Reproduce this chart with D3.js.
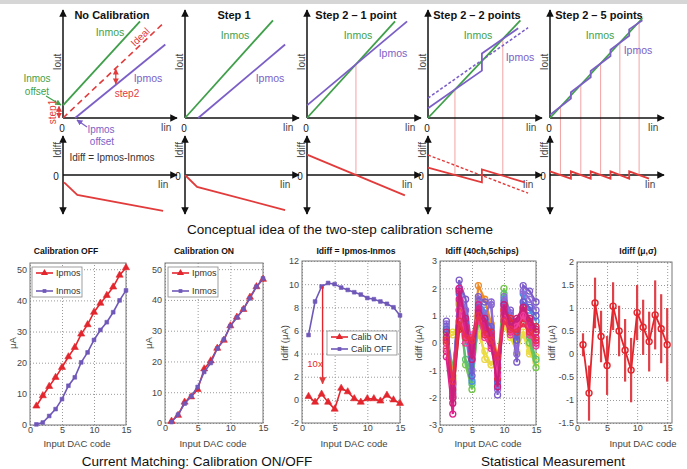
<!DOCTYPE html>
<html>
<head>
<meta charset="utf-8">
<script src="https://cdn.jsdelivr.net/npm/d3@7"></script>
<style>
body { margin: 0; background: #fff; }
text { font-family: "Liberation Sans", Arial, sans-serif; }
</style>
</head>
<body>
<script>
// ---- conceptual sketches (Iin, Iout in 0..1 units, Idiff in -1..1 units) ----
var conceptTitles = ["No Calibration", "Step 1", "Step 2 \u2013 1 point", "Step 2 \u2013 2 points", "Step 2 \u2013 5 points"];
var noCalInmos = [[0, 0.12], [0.7, 0.92]];
var noCalIdeal = [[0, 0], [0.91, 0.9]];
var noCalIpmos = [[0.11, 0], [0.93, 0.7]];
var noCalDiff  = [[0.01, -0.2], [0.13, -0.54], [0.91, -0.97]];
var step1Inmos = [[0, 0], [0.8, 0.93]];
var step1Ipmos = [[0.12, 0], [0.91, 0.7]];
var step1Diff  = [[0, 0], [0.11, -0.32], [0.91, -0.95]];
var pt1Inmos = [[0, 0], [0.8, 0.92]];
var pt1Ipmos = [[0, 0.12], [0.91, 0.92]];
var pt1Diff  = [[0, 0.55], [0.89, -0.55]];
var pt1Cal   = [0.445];
var pt2Inmos = [[0, 0], [0.84, 0.93]];
var pt2IpmosOld = [[0, 0.19], [0.91, 0.86]];
var pt2Ipmos = [[0, 0.092], [0.49, 0.451], [0.49, 0.614], [0.82, 0.855]];
var pt2DiffOld = [[0, 0.54], [0.91, -0.49]];
var pt2Diff  = [[0, 0.2], [0.49, -0.2], [0.49, 0.15], [0.88, -0.2]];
var pt2Cal   = [0.245, 0.68];
var pt5Inmos = [[0, 0], [0.84, 0.95]];
var pt5Ipmos = [[0, 0.03], [0.19, 0.185], [0.19, 0.245], [0.37, 0.388], [0.37, 0.448], [0.55, 0.59], [0.55, 0.65], [0.72, 0.784], [0.72, 0.844], [0.84, 0.93]];
var pt5Diff  = [[0, 0.1], [0.19, -0.1], [0.19, 0.1], [0.37, -0.1], [0.37, 0.1], [0.55, -0.1], [0.55, 0.1], [0.72, -0.1], [0.72, 0.1], [0.9, -0.1]];
var pt5Cal   = [0.095, 0.28, 0.46, 0.635, 0.81];

// ---- measured data ----
var dacCodes = [1, 2, 3, 4, 5, 6, 7, 8, 9, 10, 11, 12, 13, 14, 15];
var offIpmos = [6.1, 9.4, 12.4, 15.3, 18.5, 21.9, 24.9, 29.2, 32.2, 36.2, 39.1, 41.6, 44.3, 48.1, 50.5];
var offInmos = [0.2, 0.8, 2.9, 5.1, 8.3, 12.6, 15.3, 20.1, 23.3, 27.3, 30.5, 33.0, 36.2, 40.0, 43.2];
var onIpmos  = [0.6, 2.5, 6.8, 8.5, 10.9, 17.6, 20.2, 24.3, 26.9, 31.6, 34.4, 36.9, 40.9, 44.3, 46.7];
var onInmos  = [0.3, 2.7, 6.3, 8.7, 11.7, 16.6, 19.5, 24.2, 27.1, 31.5, 34.3, 37.0, 40.5, 44.3, 47.0];
var diffOn   = [0.3, -0.2, 0.5, -0.2, -0.8, 1.0, 0.7, 0.1, -0.2, 0.1, 0.1, -0.1, 0.4, 0.0, -0.3];
var diffOff  = [5.6, 8.5, 9.8, 10.1, 10.0, 9.7, 9.5, 9.3, 9.1, 8.8, 8.7, 8.5, 8.3, 8.0, 7.3];
// per-channel Idiff (subset of the 40 channels)
var chanDiff = [
  [0.4, 0.4, 0.5, 0.2, -0.5, 0.3, -0.3, -0.8, -0.6, 0.6, 0.2, -0.3, 0.4, -0.3, -0.5],
  [0.2, 0.3, 0.7, 0.3, -0.3, 0.8, -0.6, -0.8, -0.4, 0.7, 0.3, 0.0, 0.3, -0.4, -0.7],
  [0.3, -1.3, 1.5, -0.8, -1.7, 1.0, 0.6, 0.3, -0.9, 2.0, 0.9, 0.4, 1.2, 0.0, -0.9],
  [0.5, -1.0, 1.2, -0.6, -1.5, 0.9, 0.8, 0.0, -1.0, 1.8, 0.6, 0.2, 1.0, 0.2, -0.6],
  [0.6, -1.5, 1.9, 0.4, -1.4, 1.5, 1.2, 0.5, -1.5, 1.6, 1.0, 0.3, 1.8, 1.2, 0.8],
  [0.1, -1.2, 1.4, 0.6, -0.4, 2.1, 1.6, 0.7, -0.6, 1.2, 0.7, 0.5, 1.0, 0.8, 0.4],
  [0.8, -1.8, 2.3, 1.6, -0.3, 1.7, 1.5, 1.4, -1.9, 1.5, 1.2, -0.7, 2.1, 1.9, 1.5],
  [0.7, -1.6, 2.0, 1.2, -1.0, 1.6, 1.0, 1.5, -1.7, 1.7, 1.1, -0.4, 1.9, 1.6, 1.2],
  [0.5, -2.0, 1.8, 0.8, -1.2, 1.3, 0.9, 0.6, -1.4, 1.4, 0.8, 0.1, 1.5, 1.3, 1.0],
  [0.0, -2.0, 0.6, 0.3, 0.2, 1.2, 0.7, 0.4, -1.3, 1.2, 0.9, 0.6, 1.2, 0.8, 0.6],
  [-0.3, -1.7, 0.5, 0.5, 0.0, 1.0, 0.5, 0.2, -0.9, 1.0, 0.7, 0.5, 0.9, 0.7, 0.4],
  [-0.5, -2.6, 2.0, 0.3, -0.4, 1.2, 0.4, -0.1, -1.1, 1.1, 0.4, 0.8, 1.1, 0.6, 0.0],
  [0.2, -1.9, 1.6, 0.6, -0.2, 1.4, 0.6, 0.3, -0.8, 1.3, 0.5, 0.7, 1.3, 0.5, 0.2],
  [-0.2, -1.5, 1.2, 0.0, 0.3, 0.8, 0.2, -0.2, -1.2, 0.9, 0.3, 0.6, 1.0, 0.3, -0.1],
  [0.4, -2.2, 1.9, 0.9, -0.6, 1.1, 0.9, 0.0, -1.6, 1.4, 0.6, 0.9, 1.3, 0.9, 0.5],
  [0.1, -1.4, 0.8, 0.2, 0.1, 1.0, 0.3, 0.1, -0.5, 0.8, 0.5, 0.4, 0.7, 0.4, 0.1]
];
var chanColors = ["#e6e23a", "#ecd84a", "#74c84a", "#5cc070", "#4f8fe0", "#f08a24", "#7c5cc8", "#8e6ad6",
                  "#6a5ed0", "#e82a3a", "#d92440", "#e0208a", "#d8248a", "#f0409a", "#c8207a", "#e8304e"];
var muDiff    = [0.2, -0.85, 1.11, 0.38, -0.25, 1.04, 0.5, 0.08, -0.35, 0.9, 0.58, 0.27, 0.85, 0.55, 0.2];
var sigmaDiff = [0.25, 0.6, 0.55, 0.56, 0.64, 0.52, 0.55, 0.68, 0.7, 0.6, 0.6, 0.65, 0.75, 0.75, 0.8];

var codeTicks = [0, 5, 10, 15];
var uaTicks   = [0, 10, 20, 30, 40, 50];
var idiffTicks = [-2, 0, 2, 4, 6, 8, 10, 12];
var chanTicks = [-3, -2, -1, 0, 1, 2, 3];
var muTicks   = [-1.5, -1, -0.5, 0, 0.5, 1, 1.5, 2];

var green = "#3f9f4a", purple = "#7b5fc7", red = "#e23b3b", pink = "#f3a3a3";
var mRed = "#e3262e", mPurple = "#6f58b8";

var svg = d3.select("body").append("svg").attr("width", 687).attr("height", 469);
svg.append("rect").attr("width", 687).attr("height", 469).attr("fill", "#fff");
svg.append("rect").attr("width", 687).attr("height", 4).attr("fill", "#d6d6d6");

var defs = svg.append("defs");
function arrowMarker(id, color) {
  defs.append("marker").attr("id", id).attr("viewBox", "0 0 10 10")
    .attr("refX", 9).attr("refY", 5).attr("markerWidth", 5).attr("markerHeight", 5)
    .attr("orient", "auto-start-reverse")
    .append("path").attr("d", "M0,0L10,5L0,10z").attr("fill", color);
}
arrowMarker("aBlack", "#111");
arrowMarker("aRed", red);
arrowMarker("aGreen", green);
arrowMarker("aPurple", purple);

function label(g, x, y, txt, opt) {
  opt = opt || {};
  var t = g.append("text").attr("x", x).attr("y", y).text(txt)
    .attr("font-size", opt.size || 10).attr("fill", opt.color || "#333")
    .attr("text-anchor", opt.anchor || "middle").attr("dy", "0.35em");
  if (opt.bold) t.attr("font-weight", "bold");
  if (opt.rotate) t.attr("transform", "rotate(" + opt.rotate + "," + x + "," + y + ")");
  return t;
}
function lerpAt(pts, t) {
  for (var k = 1; k < pts.length; k++) {
    if (t <= pts[k][0]) {
      var a = pts[k - 1], b = pts[k];
      return a[1] + (b[1] - a[1]) * (t - a[0]) / (b[0] - a[0]);
    }
  }
  return pts[pts.length - 1][1];
}

// ================= conceptual panels =================
var conceptLeft = [63, 185, 307, 428, 550];
var conceptPanels = [
  { top: [[noCalInmos, green], [noCalIdeal, red, "6,4"], [noCalIpmos, purple]], bot: [[noCalDiff, red]], cal: [], ref: noCalInmos,
    lab: [[47, 32], [85, 78]] },
  { top: [[step1Inmos, green], [step1Ipmos, purple]], bot: [[step1Diff, red]], cal: [], ref: step1Inmos,
    lab: [[50, 35], [85, 78]] },
  { top: [[pt1Inmos, green], [pt1Ipmos, purple]], bot: [[pt1Diff, red]], cal: pt1Cal, ref: pt1Inmos,
    lab: [[51, 35], [86, 53]] },
  { top: [[pt2Inmos, green], [pt2IpmosOld, purple, "3,2"], [pt2Ipmos, purple]], bot: [[pt2DiffOld, red, "3,2"], [pt2Diff, red]], cal: pt2Cal, ref: pt2Inmos,
    lab: [[50, 35], [92, 57]] },
  { top: [[pt5Inmos, green], [pt5Ipmos, purple]], bot: [[pt5Diff, red]], cal: pt5Cal, ref: pt5Inmos,
    lab: [[50, 35], [88, 50]] }
];

conceptPanels.forEach(function (p, i) {
  var ox = conceptLeft[i];
  var g = svg.append("g");
  var x = d3.scaleLinear().domain([0, 1]).range([ox, ox + 110]);
  var yT = d3.scaleLinear().domain([0, 1]).range([118, 13]);
  var yB = d3.scaleLinear().domain([-1, 1]).range([212, 138]);

  // calibration points: vertical guides
  p.cal.forEach(function (c) {
    g.append("line").attr("x1", x(c)).attr("x2", x(c))
      .attr("y1", yT(lerpAt(p.ref, c))).attr("y2", yB(0))
      .attr("stroke", pink).attr("stroke-width", 1);
  });

  // axes
  g.append("line").attr("x1", ox).attr("y1", 118).attr("x2", ox).attr("y2", 10)
    .attr("stroke", "#111").attr("stroke-width", 1.5).attr("marker-end", "url(#aBlack)");
  g.append("line").attr("x1", ox).attr("y1", 118).attr("x2", ox + 114).attr("y2", 118)
    .attr("stroke", "#111").attr("stroke-width", 1.5).attr("marker-end", "url(#aBlack)");
  g.append("line").attr("x1", ox).attr("y1", 136).attr("x2", ox).attr("y2", 214)
    .attr("stroke", "#111").attr("stroke-width", 1.5)
    .attr("marker-start", "url(#aBlack)").attr("marker-end", "url(#aBlack)");
  g.append("line").attr("x1", ox).attr("y1", yB(0)).attr("x2", ox + 114).attr("y2", yB(0))
    .attr("stroke", "#111").attr("stroke-width", 1.5).attr("marker-end", "url(#aBlack)");

  label(g, ox - 6, 62, "Iout", { rotate: -90, size: 10, color: "#444" });
  label(g, ox - 6, 150, "Idiff", { rotate: -90, size: 10, color: "#444" });
  label(g, ox - 1, 128, "0", { size: 10, color: "#222" });
  label(g, ox - 7, yB(0) + 1, "0", { size: 10, color: "#222" });
  label(g, ox + 103, 127, "Iin", { size: 10, color: "#444" });
  label(g, ox + 100, 184, "Iin", { size: 10, color: "#444" });
  label(g, ox + 49, 15, conceptTitles[i], { size: 11, bold: true, color: "#111" });

  var lineT = d3.line().x(function (d) { return x(d[0]); }).y(function (d) { return yT(d[1]); });
  var lineB = d3.line().x(function (d) { return x(d[0]); }).y(function (d) { return yB(d[1]); });
  p.top.forEach(function (s) {
    g.append("path").attr("d", lineT(s[0])).attr("fill", "none").attr("stroke", s[1])
      .attr("stroke-width", s[2] ? 1.6 : 1.8).attr("stroke-dasharray", s[2] || null);
  });
  p.bot.forEach(function (s) {
    g.append("path").attr("d", lineB(s[0])).attr("fill", "none").attr("stroke", s[1])
      .attr("stroke-width", s[2] ? 1.4 : 1.8).attr("stroke-dasharray", s[2] || null);
  });

  label(g, ox + p.lab[0][0], p.lab[0][1], "Inmos", { color: green, size: 10.5 });
  label(g, ox + p.lab[1][0], p.lab[1][1], "Ipmos", { color: purple, size: 10.5 });

  if (i === 0) {
    label(g, 112, 157, "Idiff = Ipmos-Inmos", { size: 10 });
    label(g, 37, 78, "Inmos", { color: green, size: 10 });
    label(g, 37, 91, "offset", { color: green, size: 10 });
    g.append("line").attr("x1", 46).attr("y1", 96).attr("x2", 61).attr("y2", 105)
      .attr("stroke", green).attr("stroke-width", 1.2).attr("marker-end", "url(#aGreen)");
    label(g, 101, 129, "Ipmos", { color: purple, size: 10 });
    label(g, 102, 141, "offset", { color: purple, size: 10 });
    g.append("line").attr("x1", 87).attr("y1", 127).attr("x2", 77).attr("y2", 120)
      .attr("stroke", purple).attr("stroke-width", 1.2).attr("marker-end", "url(#aPurple)");
    label(g, 52, 112, "step1", { color: red, size: 10, rotate: -90 });
    g.append("line").attr("x1", 59).attr("y1", yT(0.11)).attr("x2", 59).attr("y2", yT(0))
      .attr("stroke", red).attr("stroke-width", 1.2)
      .attr("marker-start", "url(#aRed)").attr("marker-end", "url(#aRed)");
    var sx = 0.48;
    g.append("line").attr("x1", x(sx)).attr("y1", yT(lerpAt(noCalIdeal, sx)) + 1)
      .attr("x2", x(sx)).attr("y2", yT(lerpAt(noCalIpmos, sx)) - 1)
      .attr("stroke", red).attr("stroke-width", 1.2)
      .attr("marker-start", "url(#aRed)").attr("marker-end", "url(#aRed)");
    label(g, 127, 93, "step2", { color: red, size: 10 });
    label(g, 140, 37, "Ideal", { color: red, size: 10, rotate: -44 });
  }
});

label(svg, 340, 229, "Conceptual idea of the two-step calibration scheme", { size: 13.5, color: "#111" });

// ================= measured charts =================
function frame(cfg) {
  var g = svg.append("g");
  var x = d3.scaleLinear().domain(cfg.xd).range(cfg.xr);
  var y = d3.scaleLinear().domain(cfg.yd).range(cfg.yr);
  var w = cfg.xr[1] - cfg.xr[0], h = cfg.yr[0] - cfg.yr[1];
  var fmt = function (d) { return String(d); };
  var gx = g.append("g").attr("transform", "translate(0," + cfg.yr[0] + ")")
    .call(d3.axisBottom(x).tickValues(codeTicks).tickSize(-h).tickPadding(2).tickFormat(fmt));
  var gy = g.append("g").attr("transform", "translate(" + cfg.xr[0] + ",0)")
    .call(d3.axisLeft(y).tickValues(cfg.yt).tickSize(-w).tickPadding(3).tickFormat(fmt));
  [gx, gy].forEach(function (a) {
    a.select(".domain").remove();
    a.selectAll(".tick line").attr("stroke", "#9a9a9a").attr("stroke-dasharray", "1,2");
    a.selectAll(".tick text").attr("font-size", 9).attr("fill", "#444")
      .attr("font-family", "Liberation Sans, Arial, sans-serif");
  });
  g.append("rect").attr("x", cfg.xr[0]).attr("y", cfg.yr[1]).attr("width", w).attr("height", h)
    .attr("fill", "none").attr("stroke", "#777").attr("stroke-width", 1);
  label(g, cfg.tx, 251, cfg.title, { size: 8.6, bold: true, color: "#111" });
  label(g, cfg.lx, 444, "Input DAC code", { size: 9.5, color: "#444" });
  label(g, cfg.yl, 343, cfg.ylab, { size: 9.5, color: "#444", rotate: -90 });
  return { g: g, x: x, y: y };
}

function series(c, vals, color, sym, size) {
  var line = d3.line().x(function (d, i) { return c.x(dacCodes[i]); }).y(function (d) { return c.y(d); });
  c.g.append("path").attr("d", line(vals)).attr("fill", "none").attr("stroke", color).attr("stroke-width", 1.6);
  c.g.selectAll(null).data(vals).enter().append("path")
    .attr("transform", function (d, i) { return "translate(" + c.x(dacCodes[i]) + "," + c.y(d) + ")"; })
    .attr("d", d3.symbol().type(sym).size(size))
    .attr("fill", color).attr("stroke", color).attr("stroke-width", 0.6);
}

function legend(c, x0, y0, w, h, items) {
  c.g.append("rect").attr("x", x0).attr("y", y0).attr("width", w).attr("height", h)
    .attr("fill", "#fff").attr("stroke", "#888").attr("stroke-width", 0.8);
  items.forEach(function (it, k) {
    var yy = y0 + 6 + k * ((h - 12) / Math.max(1, items.length - 1));
    c.g.append("line").attr("x1", x0 + 4).attr("x2", x0 + 21).attr("y1", yy).attr("y2", yy)
      .attr("stroke", it[1]).attr("stroke-width", 1.6);
    c.g.append("path").attr("transform", "translate(" + (x0 + 12.5) + "," + yy + ")")
      .attr("d", d3.symbol().type(it[2]).size(it[3])).attr("fill", it[1]);
    label(c.g, x0 + 24, yy, it[0], { size: 9, anchor: "start", color: "#333" });
  });
}

// Calibration OFF
var c1 = frame({ xd: [0, 15], xr: [30, 126], yd: [0, 52], yr: [425, 263], yt: uaTicks,
  title: "Calibration OFF", tx: 66, lx: 77, yl: 13, ylab: "\u03bcA" });
series(c1, offInmos, mPurple, d3.symbolSquare, 14);
series(c1, offIpmos, mRed, d3.symbolTriangle, 22);
legend(c1, 32, 267, 50, 30, [["Ipmos", mRed, d3.symbolTriangle, 22], ["Inmos", mPurple, d3.symbolSquare, 14]]);

// Calibration ON
var c2 = frame({ xd: [0, 15], xr: [165, 263], yd: [0, 52], yr: [423, 263], yt: uaTicks,
  title: "Calibration ON", tx: 204, lx: 213, yl: 149, ylab: "\u03bcA" });
series(c2, onIpmos, mRed, d3.symbolTriangle, 22);
series(c2, onInmos, mPurple, d3.symbolSquare, 14);
legend(c2, 168, 267, 50, 30, [["Ipmos", mRed, d3.symbolTriangle, 22], ["Inmos", mPurple, d3.symbolSquare, 14]]);

// Idiff calib ON / OFF
var c3 = frame({ xd: [0, 15], xr: [302, 400], yd: [-2, 12], yr: [423, 261], yt: idiffTicks,
  title: "Idiff = Ipmos-Inmos", tx: 356, lx: 354, yl: 285, ylab: "Idiff (\u03bcA)" });
series(c3, diffOff, mPurple, d3.symbolSquare, 14);
series(c3, diffOn, mRed, d3.symbolTriangle, 22);
c3.g.append("line").attr("x1", c3.x(3.15)).attr("x2", c3.x(3.15))
  .attr("y1", c3.y(diffOff[2])).attr("y2", c3.y(1.4))
  .attr("stroke", mRed).attr("stroke-width", 1.4).attr("marker-end", "url(#aRed)");
label(c3.g, 315, 364, "10x", { size: 9.5, color: mRed });
legend(c3, 327, 331, 70, 24, [["Calib ON", mRed, d3.symbolTriangle, 22], ["Calib OFF", mPurple, d3.symbolSquare, 14]]);

// 40 channels
var c4 = frame({ xd: [0, 15], xr: [440, 536], yd: [-3, 3], yr: [425, 261], yt: chanTicks,
  title: "Idiff (40ch,5chips)", tx: 482, lx: 488, yl: 419, ylab: "Idiff (\u03bcA)" });
chanDiff.forEach(function (vals, k) {
  var col = chanColors[k];
  var line = d3.line().x(function (d, i) { return c4.x(dacCodes[i]); }).y(function (d) { return c4.y(d); });
  c4.g.append("path").attr("d", line(vals)).attr("fill", "none").attr("stroke", col).attr("stroke-width", 2.2);
  c4.g.selectAll(null).data(vals).enter().append("circle")
    .attr("cx", function (d, i) { return c4.x(dacCodes[i]); }).attr("cy", function (d) { return c4.y(d); })
    .attr("r", 3).attr("fill", "none").attr("stroke", col).attr("stroke-width", 1.3);
});

// mean and sigma
var c5 = frame({ xd: [0, 15.8], xr: [577, 672], yd: [-1.5, 2], yr: [423, 262], yt: muTicks,
  title: "Idiff (\u03bc,\u03c3)", tx: 638, lx: 643, yl: 552, ylab: "Idiff (\u03bcA)" });
c5.g.append("clipPath").attr("id", "c5clip").append("rect")
  .attr("x", 577).attr("y", 262).attr("width", 95).attr("height", 161);
c5.g.append("g").attr("clip-path", "url(#c5clip)").selectAll("line").data(muDiff).enter().append("line")
  .attr("x1", function (d, i) { return c5.x(dacCodes[i]); }).attr("x2", function (d, i) { return c5.x(dacCodes[i]); })
  .attr("y1", function (d, i) { return c5.y(d + sigmaDiff[i]); })
  .attr("y2", function (d, i) { return c5.y(d - sigmaDiff[i]); })
  .attr("stroke", "#e04048").attr("stroke-width", 2.2);
var muLine = d3.line().x(function (d, i) { return c5.x(dacCodes[i]); }).y(function (d) { return c5.y(d); });
c5.g.append("path").attr("d", muLine(muDiff)).attr("fill", "none").attr("stroke", mRed).attr("stroke-width", 1.8);
c5.g.selectAll(null).data(muDiff).enter().append("circle")
  .attr("cx", function (d, i) { return c5.x(dacCodes[i]); }).attr("cy", function (d) { return c5.y(d); })
  .attr("r", 3).attr("fill", "none").attr("stroke", mRed).attr("stroke-width", 1.4);

label(svg, 197, 461, "Current Matching: Calibration ON/OFF", { size: 13.5, color: "#111" });
label(svg, 553, 461, "Statistical Measurement", { size: 13.5, color: "#111" });
</script>
</body>
</html>
